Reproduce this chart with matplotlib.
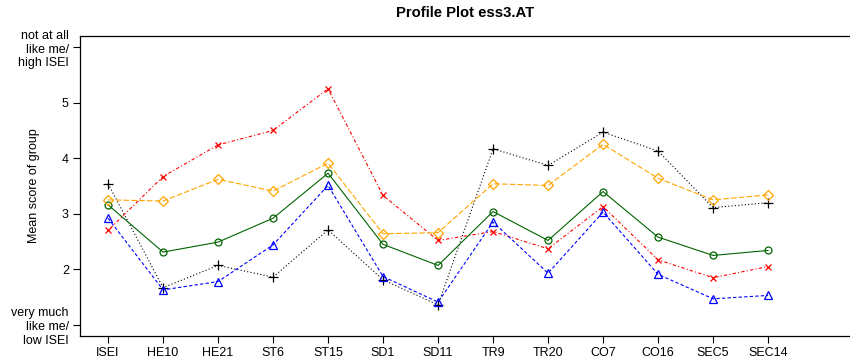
import numpy as np
import matplotlib
matplotlib.use("Agg")
import matplotlib.pyplot as plt

plt.rcParams['font.family'] = ['Liberation Sans', 'DejaVu Sans']

# Item names along the x axis
items = ["ISEI", "HE10", "HE21", "ST6", "ST15", "SD1", "SD11",
         "TR9", "TR20", "CO7", "CO16", "SEC5", "SEC14"]

# Group mean scores
grp_black = [3.54, 1.67, 2.07, 1.86, 2.71, 1.81, 1.36, 4.17, 3.87, 4.47, 4.13, 3.11, 3.20]
grp_red = [2.70, 3.67, 4.24, 4.50, 5.25, 3.33, 2.52, 2.68, 2.37, 3.13, 2.17, 1.85, 2.05]
grp_blue = [2.92, 1.63, 1.78, 2.44, 3.51, 1.87, 1.41, 2.85, 1.93, 3.03, 1.91, 1.47, 1.53]
grp_green = [3.16, 2.31, 2.49, 2.92, 3.73, 2.45, 2.07, 3.04, 2.52, 3.40, 2.58, 2.25, 2.34]
grp_orange = [3.25, 3.23, 3.62, 3.41, 3.91, 2.64, 2.66, 3.54, 3.51, 4.25, 3.64, 3.25, 3.34]

ytick_vals = [1, 2, 3, 4, 5, 6]
ytick_labels = ["very much\nlike me/\nlow ISEI", "2", "3", "4", "5",
                "not at all\nlike me/\nhigh ISEI"]

fig = plt.figure(figsize=(8.5, 3.59), dpi=100)
ax = fig.add_axes([80 / 850, 23 / 359, 1 - 80 / 850, 300 / 359])

x = np.arange(1, len(items) + 1)
lw = 0.8
ax.plot(x, grp_black, color='black', linestyle=(0, (1, 2)), linewidth=lw,
        marker='+', markersize=7, markeredgewidth=0.9)
ax.plot(x, grp_red, color='red', linestyle=(0, (1, 2, 3, 2)), linewidth=lw,
        marker='x', markersize=5, markeredgewidth=0.9)
ax.plot(x, grp_blue, color='blue', linestyle=(0, (3, 2)), linewidth=lw,
        marker='^', markersize=6, markerfacecolor='none', markeredgewidth=0.9)
ax.plot(x, grp_green, color='darkgreen', linestyle='-', linewidth=lw,
        marker='o', markersize=5, markerfacecolor='none', markeredgewidth=0.9)
ax.plot(x, grp_orange, color='orange', linestyle=(0, (5, 2)), linewidth=lw,
        marker='D', markersize=5, markerfacecolor='none', markeredgewidth=0.9)

ax.set_xlim(0.49, 14.49)
ax.set_ylim(0.8, 6.2)
ax.set_xticks(x)
ax.set_xticklabels(items, fontsize=9)
ax.set_yticks(ytick_vals)
ax.set_yticklabels(ytick_labels, fontsize=9, ha='right')
ax.tick_params(direction='out', length=5, width=0.8, pad=3)
ax.spines['right'].set_visible(False)
for s in ['top', 'left', 'bottom']:
    ax.spines[s].set_linewidth(0.9)

ax.set_ylabel("Mean score of group", fontsize=9)
ax.yaxis.set_label_coords(-0.052, 0.5)
ax.set_title("Profile Plot ess3.AT", fontsize=10.7, fontweight='bold', pad=14)

fig.savefig("out.png", dpi=100)
